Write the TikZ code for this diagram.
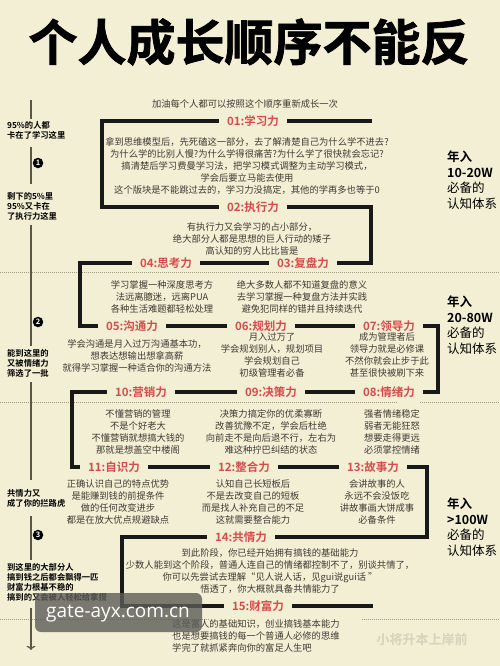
\documentclass[tikz,border=0pt]{standalone}
\usepackage{fontspec}
\usepackage{xcolor}
\usepackage{tikz}
\usetikzlibrary{
	arrows.meta,
	calc,
	positioning
}
\setmainfont{Noto Sans CJK SC}[BoldFont=* Bold]
\newfontfamily\titlefont{Noto Sans CJK SC}[UprightFont=* Bold, FakeBold=1.5]
\newfontfamily\wmfont{Open Sans}
\definecolor{PaperBg}{RGB}{243, 239, 212}
\definecolor{StepRed}{RGB}{214, 76, 76}
\definecolor{BodyGray}{RGB}{62, 58, 52}
\definecolor{RuleGray}{RGB}{95, 85, 70}
\definecolor{DotGray}{RGB}{160, 150, 130}
\definecolor{WmGray}{RGB}{92, 92, 88}

\begin{document}
\begin{tikzpicture}[x=1pt, y=-1pt,
		frame/.style={line width=4pt, draw=black!90},
		steptitle/.style={font=\bfseries\fontsize{11.5}{13}\selectfont, text=StepRed, inner xsep=8pt, inner ysep=2pt},
		stepbody/.style={font=\fontsize{9.3}{12}\selectfont, text=BodyGray, align=center, inner sep=0pt},
		sidenote/.style={font=\bfseries\fontsize{8.3}{10}\selectfont, align=left, anchor=west, inner sep=0pt},
		income/.style={font=\fontsize{12.5}{15.5}\selectfont, align=left, anchor=west, inner sep=0pt},
		vline/.style={draw=RuleGray, line width=1.2pt},
		dotline/.style={draw=DotGray, line width=0.7pt, dash pattern=on 0.8pt off 1.2pt},
		stage/.style={circle, fill=black, text=white, inner sep=0pt, minimum size=10.5pt, font=\bfseries\fontsize{7.5}{8}\selectfont}]
		% 底色
		\fill[PaperBg] (0,0) rectangle (500,666);
		\useasboundingbox (0,0) rectangle (500,666);
		\node[font=\titlefont\fontsize{49}{56}\selectfont] (title) at (249,42) {个人成长顺序不能反};
		\node[font=\fontsize{9.3}{11}\selectfont, text=BodyGray] (sub) at (245,104) {加油每个人都可以按照这个顺序重新成长一次};
		% 分隔虚线
		\draw[dotline] (0,272) -- (500,272);
		\draw[dotline] (0,402) -- (398,402) (420,402) -- (500,402);
		\draw[dotline] (0,619) -- (210,619) (362,619) -- (500,619);
		% 各阶段标题
		\node[steptitle] (s01) at (253,121) {01:学习力};
		\node[steptitle] (s02) at (253,207) {02:执行力};
		\node[steptitle] (s03) at (303,263) {03:复盘力};
		\node[steptitle] (s04) at (166,263) {04:思考力};
		\node[steptitle] (s05) at (132,326) {05:沟通力};
		\node[steptitle] (s06) at (261,326) {06:规划力};
		\node[steptitle] (s07) at (389,326) {07:领导力};
		\node[steptitle] (s08) at (389,392) {08:情绪力};
		\node[steptitle] (s09) at (271,392) {09:决策力};
		\node[steptitle] (s10) at (141,392) {10:营销力};
		\node[steptitle] (s11) at (114,467) {11:自识力};
		\node[steptitle] (s12) at (244,467) {12:整合力};
		\node[steptitle] (s13) at (373,467) {13:故事力};
		\node[steptitle] (s14) at (241,537) {14:共情力};
		\node[steptitle] (s15) at (258,606) {15:财富力};
		% 折线
		\coordinate (e01) at (372,121);
		\coordinate (k01) at (102,207);
		\coordinate (k02) at (371,263);
		\coordinate (k04) at (80,326);
		\coordinate (k07) at (438,392);
		\coordinate (k10) at (72,467);
		\coordinate (k13) at (427,537);
		\coordinate (k14) at (122,606);
		\coordinate (e15) at (373,606);
		\draw[frame] (s01) -- (e01);
		\draw[frame] (s01) -| (k01) -- (s02);
		\draw[frame] (s02) -| (k02) -- (s03);
		\draw[frame] (s03) -- (s04);
		\draw[frame] (s04) -| (k04) -- (s05);
		\draw[frame] (s05) -- (s06);
		\draw[frame] (s06) -- (s07);
		\draw[frame] (s07) -| (k07) -- (s08);
		\draw[frame] (s08) -- (s09);
		\draw[frame] (s09) -- (s10);
		\draw[frame] (s10) -| (k10) -- (s11);
		\draw[frame] (s11) -- (s12);
		\draw[frame] (s12) -- (s13);
		\draw[frame] (s13) -| (k13) -- (s14);
		\draw[frame] (s14) -| (k14) -- (s15);
		\draw[frame] (s15) -- (e15);
		% 正文
		\node[stepbody] (b01) at (247,166) {拿到思维模型后，先死磕这一部分，去了解清楚自己为什么学不进去?\\为什么学的比别人慢?为什么学得很痛苦?为什么学了很快就会忘记?\\搞清楚后学习费曼学习法，把学习模式调整为主动学习模式，\\学会后要立马能去使用\\这个版块是不能跳过去的，学习力没搞定，其他的学再多也等于0};
		\node[stepbody] (b02) at (252,239) {有执行力又会学习的占小部分，\\绝大部分人都是思想的巨人行动的矮子\\高认知的穷人比比皆是};
		\node[stepbody] (b04) at (162,297) {学习掌握一种深度思考方\\法远离臆迷，远离PUA\\各种生活难题都轻松处理};
		\node[stepbody] (b03) at (302,297) {绝大多数人都不知道复盘的意义\\去学习掌握一种复盘方法并实践\\避免犯同样的错并且持续迭代};
		\node[stepbody] (b05) at (137,356) {学会沟通是月入过万沟通基本功，\\想表达想输出想拿高薪\\就得学习掌握一种适合你的沟通方法};
		\node[stepbody] (b06) at (272,355) {月入过万了\\学会规划别人，规划项目\\学会规划自己\\初级管理者必备};
		\node[stepbody] (b07) at (387,355) {成为管理者后\\领导力就是必修课\\不然你就会止步于此\\甚至很快被刷下来};
		\node[stepbody] (b10) at (138,432) {不懂营销的管理\\不是个好老大\\不懂营销就想搞大钱的\\那就是想盖空中楼阁};
		\node[stepbody] (b09) at (271,432) {决策力搞定你的优柔寡断\\改善犹豫不定，学会后杜绝\\向前走不是向后退不行，左右为\\难这种拧巴纠结的状态};
		\node[stepbody] (b08) at (392,432) {强者情绪稳定\\弱者无能狂怒\\想要走得更远\\必须掌控情绪};
		\node[stepbody] (b11) at (118,502) {正确认识自己的特点优势\\是能赚到钱的前提条件\\做的任何改变进步\\都是在放大优点规避缺点};
		\node[stepbody] (b12) at (253,502) {认知自己长短板后\\不是去改变自己的短板\\而是找人补充自己的不足\\这就需要整合能力};
		\node[stepbody] (b13) at (377,502) {会讲故事的人\\永远不会没饭吃\\讲故事画大饼成事\\必备条件};
		\node[stepbody] (b14) at (270,571) {到此阶段，你已经开始拥有搞钱的基础能力\\少数人能到这个阶段，普通人连自己的情绪都控制不了，别谈共情了，\\你可以先尝试去理解“见人说人话，见gui说gui话 ”\\悟透了，你大概就具备共情能力了};
		\node[stepbody, align=left, anchor=west] (b15) at (172,636) {这是富人的基础知识，创业搞钱基本能力\\也是想要搞钱的每一个普通人必修的思维\\学完了就抓紧奔向你的富足人生吧};
		% 右侧年收入
		\node[income] (inc1) at (447,180) {{\bfseries 年入}\\{\bfseries 10-20W}\\必备的\\认知体系};
		\node[income] (inc2) at (447,325) {{\bfseries 年入}\\{\bfseries 20-80W}\\必备的\\认知体系};
		\node[income] (inc3) at (447,527) {{\bfseries 年入}\\{\bfseries >100W}\\必备的\\认知体系};
		% 左侧说明
		\node[sidenote] (lt1) at (7,130) {95\%的人都\\卡在了学习这里};
		\node[sidenote] (lt2) at (7,206) {剩下的5\%里\\95\%又卡在\\了执行力这里};
		\node[sidenote] (lt3) at (7,363) {能到这里的\\又被情绪力\\筛选了一批};
		\node[sidenote] (lt4) at (7,498) {共情力又\\成了你的拦路虎};
		\node[sidenote] (lt5) at (7,582) {到这里的大部分人\\搞到钱之后都会飘得一匹\\财富力根基不稳的\\搞到的又会被人轻松给拿捏};
		\coordinate (L0) at (31,100);
		\coordinate (Lend) at (31,650);
		\draw[vline, shorten >=2pt] (L0) -- (L0 |- lt1.north);
		\draw[vline, shorten <=8pt, shorten >=8pt] (lt1.south -| L0) -- (lt2.north -| L0);
		\draw[vline, shorten <=5pt, shorten >=3pt] (lt2.south -| L0) -- (lt3.north -| L0);
		\draw[vline, shorten <=5pt, shorten >=9pt] (lt3.south -| L0) -- (lt4.north -| L0);
		\draw[vline, shorten <=9pt, shorten >=3pt] (lt4.south -| L0) -- (lt5.north -| L0);
		\draw[vline, ->, shorten <=7pt] (lt5.south -| L0) -- (Lend);
		\node[stage] (n1) at (38,163) {1};
		\node[stage] (n2) at (38,322) {2};
		\node[stage] (n3) at (38,535) {3};
		% 水印
		\fill[WmGray, opacity=0.8, rounded corners=6pt] (35,593) rectangle (202,632);
		\node[font=\wmfont\fontsize{19}{21}\selectfont, text=white, inner sep=0pt] (wm) at (118,614) {gate-ayx.com.cn};
		\node[font=\bfseries\fontsize{13}{15}\selectfont, text=black!12!PaperBg] (wm2) at (422,640) {小将升本上岸前};
	\end{tikzpicture}
\end{document}
